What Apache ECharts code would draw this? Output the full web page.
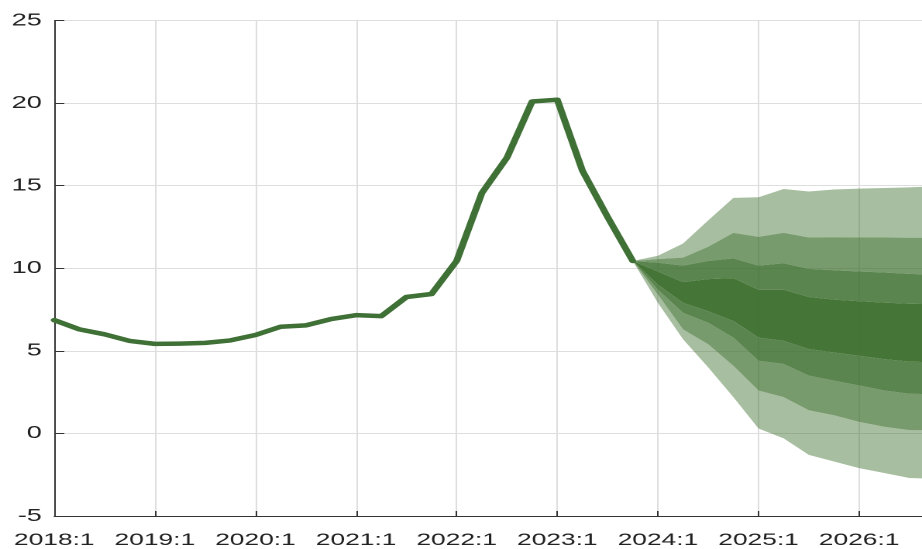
<!DOCTYPE html>
<html>
<head>
<meta charset="utf-8">
<script src="https://cdn.jsdelivr.net/npm/echarts@6/dist/echarts.min.js"></script>
<style>
  html, body { margin: 0; padding: 0; background: #ffffff; overflow: hidden; }
  #wrap { width: 922px; height: 549px; overflow: hidden; position: relative; }
  #chart { width: 595px; height: 549px; transform: scaleX(1.5496); transform-origin: 0 0; }
</style>
</head>
<body>
<div id="wrap"><div id="chart"></div></div>
<script>
// Quarter index 0 = 2018:1
const tickLabels = ['2018:1', '2019:1', '2020:1', '2021:1', '2022:1', '2023:1', '2024:1', '2025:1', '2026:1'];

// History 2018:1 .. 2023:4
const histValues = [6.86, 6.30, 6.00, 5.60, 5.42, 5.44, 5.48, 5.63,
                    5.96, 6.46, 6.54, 6.92, 7.16, 7.10, 8.26, 8.44,
                    10.45, 14.55, 16.70, 20.10, 20.20, 15.90, 13.10, 10.44];

// Fan bounds 2023:4 .. 2026:4 (quarter index 23 .. 35)
const fanStart = 23;
const fanU1 = [10.44, 10.76, 11.50, 12.90, 14.26, 14.30, 14.80, 14.65, 14.77, 14.82, 14.86, 14.90, 14.95];
const fanU2 = [10.44, 10.55, 10.64, 11.30, 12.14, 11.90, 12.14, 11.86, 11.88, 11.86, 11.86, 11.85, 11.85];
const fanU3 = [10.44, 10.33, 10.16, 10.44, 10.60, 10.16, 10.30, 9.96, 9.88, 9.80, 9.74, 9.66, 9.60];
const fanU4 = [10.44, 9.80, 9.16, 9.34, 9.40, 8.70, 8.70, 8.26, 8.10, 8.00, 7.92, 7.85, 7.82];
const fanL4 = [10.44, 9.00, 7.90, 7.40, 6.80, 5.80, 5.60, 5.10, 4.90, 4.70, 4.50, 4.35, 4.30];
const fanL3 = [10.44, 8.70, 7.30, 6.70, 5.80, 4.40, 4.20, 3.50, 3.20, 2.90, 2.60, 2.40, 2.38];
const fanL2 = [10.44, 8.40, 6.30, 5.40, 4.10, 2.60, 2.20, 1.40, 1.10, 0.70, 0.40, 0.20, 0.18];
const fanL1 = [10.44, 7.90, 5.70, 4.00, 2.20, 0.30, -0.30, -1.30, -1.70, -2.10, -2.40, -2.70, -2.75];

const GREEN = '60,110,45';
const bandColors = {
  light: 'rgba(' + GREEN + ',0.45)',
  mid: 'rgba(' + GREEN + ',0.69)',
  midDark: 'rgba(' + GREEN + ',0.84)',
  dark: 'rgba(' + GREEN + ',0.95)'
};

const bandDefs = [
  { up: fanL2, lo: fanL1, color: bandColors.light },
  { up: fanL3, lo: fanL2, color: bandColors.mid },
  { up: fanL4, lo: fanL3, color: bandColors.midDark },
  { up: fanU4, lo: fanL4, color: bandColors.dark },
  { up: fanU3, lo: fanU4, color: bandColors.midDark },
  { up: fanU2, lo: fanU3, color: bandColors.mid },
  { up: fanU1, lo: fanU2, color: bandColors.light }
];

function renderBand(params, api) {
  const b = bandDefs[params.dataIndex];
  const pts = [];
  b.up.forEach((v, i) => pts.push(api.coord([fanStart + i, v])));
  for (let i = b.lo.length - 1; i >= 0; i--) pts.push(api.coord([fanStart + i, b.lo[i]]));
  return {
    type: 'polygon',
    shape: { points: pts },
    style: { fill: b.color, stroke: null }
  };
}

const chart = echarts.init(document.getElementById('chart'), null, { renderer: 'canvas', devicePixelRatio: 2 });
chart.setOption({
  animation: false,
  backgroundColor: '#ffffff',
  grid: { left: 35, right: 0, top: 20.5, bottom: 30.5, containLabel: false },
  xAxis: {
    type: 'value', min: 0, max: 34.5, interval: 4,
    axisLine: { show: true, onZero: false, lineStyle: { color: '#333333', width: 1 } },
    axisTick: { show: true, inside: true, length: 5, lineStyle: { color: '#333333' } },
    axisLabel: {
      show: true, margin: 16, showMaxLabel: false,
      color: '#222222', fontFamily: 'Liberation Sans', fontSize: 17,
      formatter: function (v) {
        const k = v / 4;
        return Number.isInteger(k) && tickLabels[k] ? tickLabels[k] : '';
      }
    },
    splitLine: { show: true, lineStyle: { color: '#dedede', width: 1 } }
  },
  yAxis: {
    type: 'value', min: -5, max: 25, interval: 5,
    axisLine: { show: true, onZero: false, lineStyle: { color: '#333333', width: 1 } },
    axisTick: { show: true, inside: true, length: 6.5, lineStyle: { color: '#333333' } },
    axisLabel: {
      show: true, margin: 8, padding: [5, 0, 0, 0],
      color: '#222222', fontFamily: 'Liberation Sans', fontSize: 17.5
    },
    splitLine: { show: true, lineStyle: { color: '#dedede', width: 1 } }
  },
  series: [
    {
      type: 'custom',
      renderItem: renderBand,
      clip: true,
      silent: true,
      z: 2,
      data: bandDefs.map(() => [fanStart, 10])
    },
    {
      type: 'line',
      data: histValues.map((v, i) => [i, v]),
      symbol: 'none',
      lineStyle: { color: '#3f7036', width: 4.5, join: 'round', cap: 'round' },
      z: 5
    }
  ]
});
</script>
</body>
</html>
